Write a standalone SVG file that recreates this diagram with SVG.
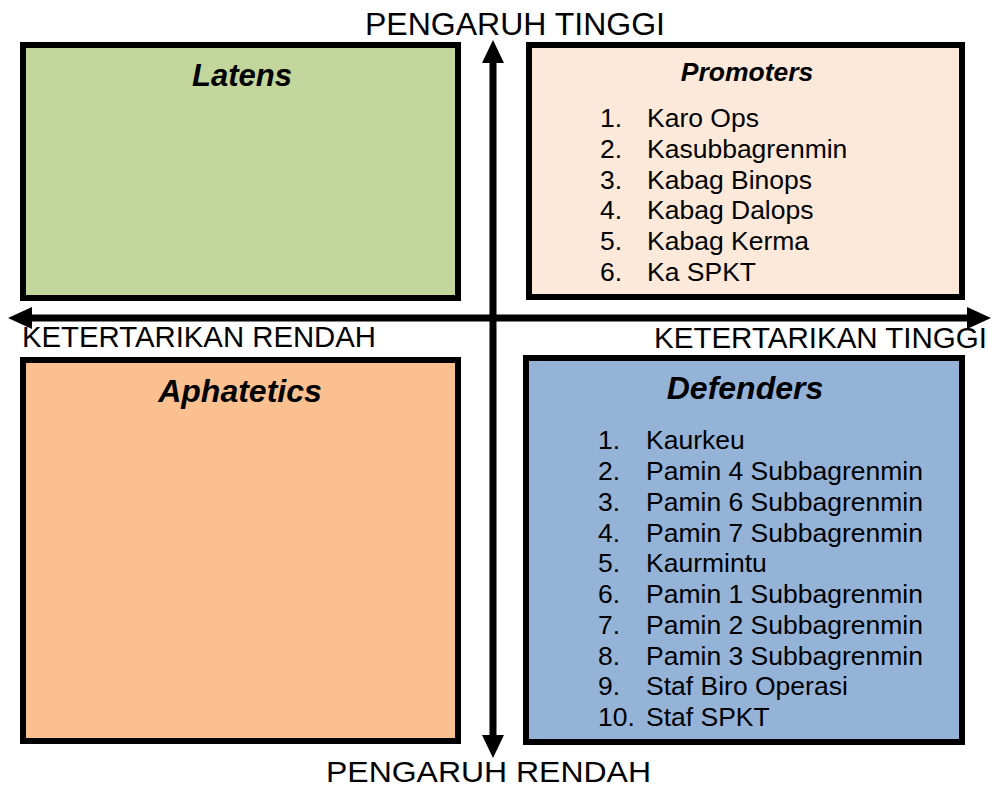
<svg xmlns="http://www.w3.org/2000/svg" width="996" height="789" viewBox="0 0 996 789">
  <style>
    .box { stroke: #000; stroke-width: 6; }
    .axis { font-family: "Liberation Sans", Arial, sans-serif; fill: #000; }
    .title { font-family: "Liberation Sans", Arial, sans-serif; font-weight: bold; font-style: italic; fill: #000; text-anchor: middle; }
    .item { font-family: "Liberation Sans", Arial, sans-serif; font-size: 26.5px; fill: #000; }
  </style>
  <rect width="996" height="789" fill="#fff"/>

  <g id="latens">
    <rect class="box" x="23" y="45" width="435" height="253" fill="#c3d69b"/>
    <text class="title" x="242" y="86" font-size="31">Latens</text>
  </g>

  <g id="promoters">
    <rect class="box" x="529" y="45" width="433" height="252" fill="#fde9d9"/>
    <text class="title" x="747" y="81" font-size="26.5">Promoters</text>
    <g class="item">
      <text x="600" y="127">1.</text><text x="647" y="127">Karo Ops</text>
      <text x="600" y="158">2.</text><text x="647" y="158">Kasubbagrenmin</text>
      <text x="600" y="189">3.</text><text x="647" y="189">Kabag Binops</text>
      <text x="600" y="219">4.</text><text x="647" y="219">Kabag Dalops</text>
      <text x="600" y="250">5.</text><text x="647" y="250">Kabag Kerma</text>
      <text x="600" y="281">6.</text><text x="647" y="281">Ka SPKT</text>
    </g>
  </g>

  <g id="aphatetics">
    <rect class="box" x="23" y="360" width="435" height="381" fill="#fac090"/>
    <text class="title" x="240" y="402" font-size="32">Aphatetics</text>
  </g>

  <g id="defenders">
    <rect class="box" x="526" y="358" width="436" height="384" fill="#95b3d7"/>
    <text class="title" x="745" y="399" font-size="32">Defenders</text>
    <g class="item">
      <text x="598" y="449">1.</text><text x="646" y="449">Kaurkeu</text>
      <text x="598" y="480">2.</text><text x="646" y="480">Pamin 4 Subbagrenmin</text>
      <text x="598" y="511">3.</text><text x="646" y="511">Pamin 6 Subbagrenmin</text>
      <text x="598" y="542">4.</text><text x="646" y="542">Pamin 7 Subbagrenmin</text>
      <text x="598" y="572">5.</text><text x="646" y="572">Kaurmintu</text>
      <text x="598" y="603">6.</text><text x="646" y="603">Pamin 1 Subbagrenmin</text>
      <text x="598" y="634">7.</text><text x="646" y="634">Pamin 2 Subbagrenmin</text>
      <text x="598" y="665">8.</text><text x="646" y="665">Pamin 3 Subbagrenmin</text>
      <text x="598" y="695">9.</text><text x="646" y="695">Staf Biro Operasi</text>
      <text x="598" y="726">10.</text><text x="646" y="726">Staf SPKT</text>
    </g>
  </g>

  <g id="connectors" fill="#000">
    <!-- vertical axis -->
    <rect x="489.5" y="60" width="7" height="678"/>
    <polygon points="493,40 482,63 504,63"/>
    <polygon points="493,758 482,735 504,735"/>
    <!-- horizontal axis -->
    <rect x="30" y="314.5" width="940" height="7"/>
    <polygon points="8,318 32,307 32,329"/>
    <polygon points="991,318 967,307 967,329"/>
  </g>

  <g id="axis-labels">
    <text class="axis" x="365" y="35" font-size="32" textLength="300" lengthAdjust="spacingAndGlyphs">PENGARUH TINGGI</text>
    <text class="axis" x="326" y="782" font-size="30" textLength="325" lengthAdjust="spacingAndGlyphs">PENGARUH RENDAH</text>
    <text class="axis" x="22" y="347" font-size="29.5" textLength="354" lengthAdjust="spacingAndGlyphs">KETERTARIKAN RENDAH</text>
    <text class="axis" x="654" y="348" font-size="29.5" textLength="333" lengthAdjust="spacingAndGlyphs">KETERTARIKAN TINGGI</text>
  </g>
</svg>
